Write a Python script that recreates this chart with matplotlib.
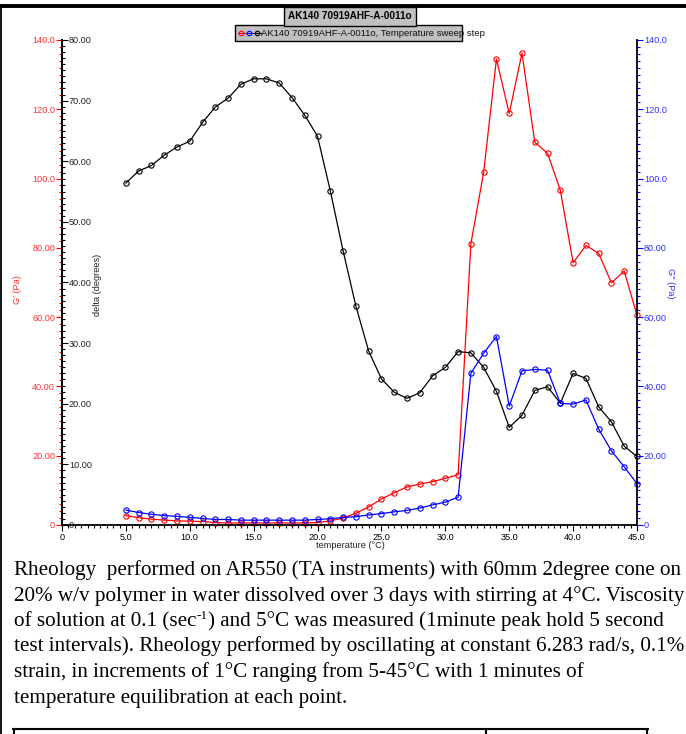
import matplotlib
matplotlib.use('Agg')
import matplotlib.pyplot as plt
from matplotlib.lines import Line2D
from matplotlib.patches import Rectangle
from matplotlib.ticker import MultipleLocator, FixedLocator, FixedFormatter

plt.rcParams['font.family'] = ['Liberation Sans', 'DejaVu Sans']

# data
temperature = list(range(5, 46))
g_prime = [2.7, 2.1, 1.7, 1.4, 1.2, 1.1, 1.0, 0.7, 0.6, 0.6,
           0.6, 0.6, 0.6, 0.6, 0.6, 0.7, 1.2, 2.0, 3.4, 5.2,
           7.5, 9.3, 11.0, 11.8, 12.5, 13.5, 14.5, 81.2, 101.8, 134.5,
           118.8, 136.2, 110.5, 107.3, 96.6, 75.7, 80.7, 78.4, 69.9, 73.3,
           60.5]
g_double = [4.3, 3.6, 3.1, 2.7, 2.5, 2.2, 1.9, 1.6, 1.6, 1.4,
            1.4, 1.4, 1.4, 1.4, 1.4, 1.6, 1.8, 2.2, 2.4, 2.9,
            3.3, 3.8, 4.2, 4.9, 5.8, 6.6, 8.0, 43.8, 49.6, 54.4,
            34.3, 44.5, 44.9, 44.7, 35.1, 34.9, 36.1, 27.7, 21.4, 16.8,
            11.9]
delta = [56.4, 58.4, 59.3, 61.0, 62.35, 63.3, 66.4, 68.95, 70.4, 72.7,
         73.6, 73.6, 72.9, 70.5, 67.6, 64.1, 55.1, 45.2, 36.1, 28.7,
         24.1, 21.9, 20.9, 21.8, 24.6, 26.0, 28.6, 28.4, 26.0, 22.05,
         16.1, 18.1, 22.2, 22.8, 20.1, 25.0, 24.2, 19.5, 17.0, 13.0,
         11.3]

x_ticks = [0, 5, 10, 15, 20, 25, 30, 35, 40, 45]
x_ticklabels = ['0', '5.0', '10.0', '15.0', '20.0', '25.0', '30.0', '35.0', '40.0', '45.0']
g_ticks = [0, 20, 40, 60, 80, 100, 120, 140]
g_ticklabels = ['0', '20.00', '40.00', '60.00', '80.00', '100.0', '120.0', '140.0']
d_ticks = [0, 10, 20, 30, 40, 50, 60, 70, 80]
d_ticklabels = ['0', '10.00', '20.00', '30.00', '40.00', '50.00', '60.00', '70.00', '80.00']

chart_title = 'AK140 70919AHF-A-0011o'
legend_label = 'AK140 70919AHF-A-0011o, Temperature sweep step'
# each line is a list of (text, is_superscript) pieces
body_lines = [
    [('Rheology  performed on AR550 (TA instruments) with 60mm 2degree cone on', False)],
    [('20% w/v polymer in water dissolved over 3 days with stirring at 4\u00b0C. Viscosity', False)],
    [('of solution at 0.1 (sec', False), ('-1', True),
     (') and 5\u00b0C was measured (1minute peak hold 5 second', False)],
    [('test intervals). Rheology performed by oscillating at constant 6.283 rad/s, 0.1%', False)],
    [('strain, in increments of 1\u00b0C ranging from 5-45\u00b0C with 1 minutes of', False)],
    [('temperature equilibration at each point.', False)],
]

RED = '#ff0000'
BLUE = '#0000ff'
RED_TXT = '#ff3030'
BLUE_TXT = '#3030ff'
FS = 6.6

W, H = 686, 734
fig = plt.figure(figsize=(W / 100, H / 100), dpi=100)

def fx(px):
    return px / W

def fy(py):
    return 1 - py / H

ax = fig.add_axes([fx(62), fy(525), fx(637 - 62), (525 - 40) / H])
ax_d = ax.twinx()
ax_b = ax.twinx()

for a in (ax, ax_d, ax_b):
    for s in a.spines.values():
        s.set_visible(False)
    a.set_xlim(0, 45)

ax.spines['left'].set_visible(True)
ax.spines['bottom'].set_visible(True)
ax.spines['left'].set_linewidth(1.3)
ax.spines['bottom'].set_linewidth(1.3)
ax_b.spines['right'].set_visible(True)
ax_b.spines['right'].set_linewidth(1.3)
ax_d.spines['right'].set_visible(True)
ax_d.spines['right'].set_position(('axes', 0))
ax_d.spines['right'].set_linewidth(1.3)

# x axis
ax.xaxis.set_major_locator(FixedLocator(x_ticks))
ax.xaxis.set_major_formatter(FixedFormatter(x_ticklabels))
ax.xaxis.set_minor_locator(MultipleLocator(0.5))
ax.tick_params(axis='x', which='major', length=4, width=0.8, labelsize=FS, pad=2, colors='k')
ax.tick_params(axis='x', which='minor', length=2.5, width=0.8, colors='k')

# G' (left, red)
ax.set_ylim(0, 140)
ax.yaxis.set_major_locator(FixedLocator(g_ticks))
ax.yaxis.set_major_formatter(FixedFormatter(g_ticklabels))
ax.yaxis.set_minor_locator(MultipleLocator(2))
ax.tick_params(axis='y', which='major', length=4, width=0.8, labelsize=FS, pad=1,
               color=RED, labelcolor=RED_TXT)
ax.tick_params(axis='y', which='minor', length=2.5, width=0.8, color=RED)

# delta (left spine, ticks and labels to the inside)
ax_d.set_ylim(0, 80)
ax_d.yaxis.set_major_locator(FixedLocator(d_ticks))
ax_d.yaxis.set_major_formatter(FixedFormatter(d_ticklabels))
ax_d.yaxis.set_minor_locator(MultipleLocator(1))
ax_d.tick_params(axis='y', which='major', length=4, width=0.8, labelsize=FS, pad=1,
                 color='k', labelcolor='#222222')
ax_d.tick_params(axis='y', which='minor', length=2.5, width=0.8, color='k')

# G'' (right, blue)
ax_b.set_ylim(0, 140)
ax_b.yaxis.set_major_locator(FixedLocator(g_ticks))
ax_b.yaxis.set_major_formatter(FixedFormatter(g_ticklabels))
ax_b.yaxis.set_minor_locator(MultipleLocator(2))
ax_b.tick_params(axis='y', which='major', length=4, width=0.8, labelsize=FS, pad=1,
                 color=BLUE, labelcolor=BLUE_TXT)
ax_b.tick_params(axis='y', which='minor', length=2.5, width=0.8, color=BLUE)

style = dict(lw=0.9, marker='o', ms=3.8, mfc='none', mew=0.8, clip_on=False)
ax.plot(temperature, g_prime, color=RED, **style)
ax_b.plot(temperature, g_double, color=BLUE, **style)
ax_d.plot(temperature, delta, color='k', **style)

# axis titles
fig.text(fx(18), fy(290), "G' (Pa)", rotation=90, color=RED_TXT, fontsize=FS,
         ha='center', va='center')
fig.text(fx(97), fy(285), 'delta (degrees)', rotation=90, color='#222222', fontsize=FS,
         ha='center', va='center')
fig.text(fx(671), fy(283), "G'' (Pa)", rotation=270, color=BLUE_TXT, fontsize=FS,
         ha='center', va='center')
fig.text(fx(350), fy(546), 'temperature (\u00b0C)', color='#222222', fontsize=FS,
         ha='center', va='center')

# title box
fig.text(fx(350), fy(16), chart_title, fontsize=7.2, fontweight='bold', ha='center', va='center',
         bbox=dict(boxstyle='square,pad=0.45', fc='#c0c0c0', ec='k', lw=1.0))

# legend box
fig.add_artist(Rectangle((fx(235), fy(41)), fx(462 - 235), (41 - 25) / H,
                         transform=fig.transFigure, fc='#c0c0c0', ec='k', lw=1.0))
for x0, c in ((238, RED), (246, BLUE), (254, 'k')):
    fig.add_artist(Line2D([fx(x0), fx(x0 + 7)], [fy(33), fy(33)], color=c, lw=0.8,
                          transform=fig.transFigure))
    fig.add_artist(Line2D([fx(x0 + 2.5)], [fy(33)], color=c, marker='o', ms=3.2, mfc='none',
                          mew=0.8, transform=fig.transFigure))
fig.text(fx(261), fy(33), legend_label, fontsize=6.8, color='#111111', ha='left', va='center')

# body text below the chart
renderer = fig.canvas.get_renderer()
for i, pieces in enumerate(body_lines):
    x_px = 14
    base = 575 + 25.5 * i
    for txt, sup in pieces:
        t = fig.text(fx(x_px), fy(base - 7 if sup else base), txt,
                     fontsize=9.5 if sup else 15.2, family='Liberation Serif',
                     ha='left', va='baseline', color='k')
        x_px = t.get_window_extent(renderer).x1

# page frame and table top
fig.add_artist(Line2D([0, 1], [fy(5.5), fy(5.5)], color='k', lw=2.8, transform=fig.transFigure))
fig.add_artist(Line2D([fx(0.8), fx(0.8)], [0, fy(5.5)], color='k', lw=1.3, transform=fig.transFigure))
fig.add_artist(Line2D([fx(13), fx(648)], [fy(729), fy(729)], color='k', lw=1.5, transform=fig.transFigure))
for xv in (14, 486, 647):
    fig.add_artist(Line2D([fx(xv), fx(xv)], [0, fy(729)], color='k', lw=1.5, transform=fig.transFigure))

fig.savefig('out.png', dpi=100)
